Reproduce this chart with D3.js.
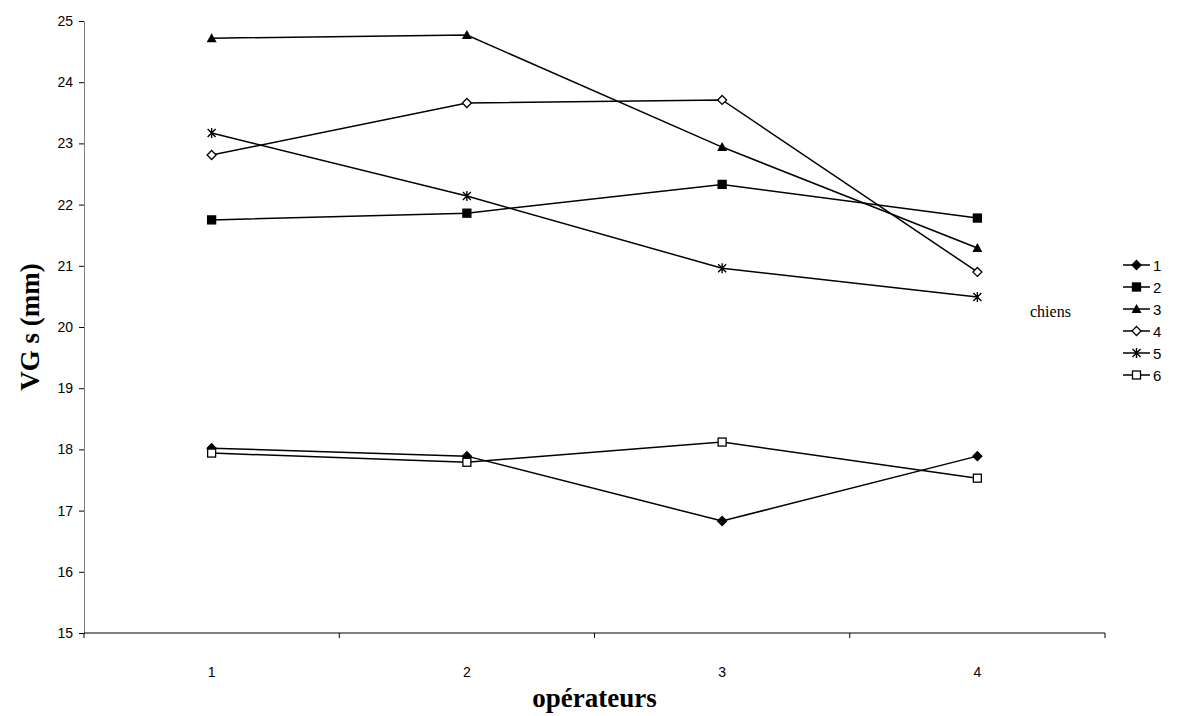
<!DOCTYPE html>
<html>
<head>
<meta charset="utf-8">
<script src="https://cdn.jsdelivr.net/npm/d3@7"></script>
<style>
  body { margin: 0; background: #fff; }
  svg { display: block; }
</style>
</head>
<body>
<div id="chart"></div>
<script>
// operateurs (x categories)
var operateurs = ["1", "2", "3", "4"];
var yTicks = [15, 16, 17, 18, 19, 20, 21, 22, 23, 24, 25];

// chiens (one series per dog)
var chien1 = [18.02, 17.89, 16.83, 17.89];
var chien2 = [21.75, 21.86, 22.33, 21.78];
var chien3 = [24.72, 24.77, 22.94, 21.29];
var chien4 = [22.81, 23.66, 23.71, 20.90];
var chien5 = [23.17, 22.14, 20.96, 20.49];
var chien6 = [17.94, 17.79, 18.12, 17.53];

var series = [
    {name: "1", values: chien1, marker: "diamondFill"},
    {name: "2", values: chien2, marker: "squareFill"},
    {name: "3", values: chien3, marker: "triangle"},
    {name: "4", values: chien4, marker: "diamondOpen"},
    {name: "5", values: chien5, marker: "star"},
    {name: "6", values: chien6, marker: "squareOpen"}
];

var width = 1179,
    height = 716,
    plotLeft = 84,
    plotRight = 1105,
    plotTop = 21,
    plotBottom = 633;

var svg = d3.select("#chart").append("svg")
    .attr("width", width)
    .attr("height", height);

var x = d3.scaleBand().domain(operateurs).range([plotLeft, plotRight]);
var y = d3.scaleLinear().domain([15, 25]).range([plotBottom, plotTop]);

// y axis
var yAxis = svg.append("g")
    .attr("transform", "translate(" + plotLeft + ",0)")
    .call(d3.axisLeft(y).tickValues(yTicks).tickSize(5).tickSizeOuter(0).tickPadding(6));
yAxis.select(".domain").attr("stroke", "#808080");
yAxis.selectAll("line").attr("stroke", "#000");
yAxis.selectAll("text")
    .style("font-family", "Liberation Sans, Arial, sans-serif")
    .style("font-size", "14px")
    .attr("fill", "#000");

// x axis, ticks on the category boundaries
var xAxis = svg.append("g")
    .attr("transform", "translate(0," + plotBottom + ")")
    .call(d3.axisBottom(x).tickSize(0).tickPadding(37));
xAxis.select(".domain").remove();
xAxis.append("line")
    .attr("x1", plotLeft).attr("x2", plotRight)
    .attr("stroke", "#000");
var bounds = operateurs.map(function (d) { return x(d); }).concat([plotRight]);
xAxis.selectAll(".bound").data(bounds).enter().append("line")
    .attr("class", "bound")
    .attr("x1", function (d) { return d; })
    .attr("x2", function (d) { return d; })
    .attr("y1", 0).attr("y2", 5)
    .attr("stroke", "#000");
xAxis.selectAll("text")
    .style("font-family", "Liberation Sans, Arial, sans-serif")
    .style("font-size", "14px")
    .attr("fill", "#000")
    .attr("dy", "0.5em");

// axis titles
svg.append("text")
    .attr("transform", "translate(39," + (plotTop + plotBottom) / 2 + ") rotate(-90)")
    .attr("text-anchor", "middle")
    .style("font-family", "Liberation Serif, Times New Roman, serif")
    .style("font-weight", "bold")
    .style("font-size", "27px")
    .text("VG s (mm)");

svg.append("text")
    .attr("x", (plotLeft + plotRight) / 2)
    .attr("y", 707)
    .attr("text-anchor", "middle")
    .style("font-family", "Liberation Serif, Times New Roman, serif")
    .style("font-weight", "bold")
    .style("font-size", "27px")
    .text("opérateurs");

function drawMarker(g, type) {
    var s = 4.5;
    if (type === "diamondFill" || type === "diamondOpen") {
        g.append("path")
            .attr("d", "M0," + (-s) + "L" + s + ",0L0," + s + "L" + (-s) + ",0Z")
            .attr("fill", type === "diamondFill" ? "#000" : "#fff")
            .attr("stroke", "#000").attr("stroke-width", 1.3);
    } else if (type === "squareFill" || type === "squareOpen") {
        g.append("rect")
            .attr("x", -4).attr("y", -4).attr("width", 8).attr("height", 8)
            .attr("fill", type === "squareFill" ? "#000" : "#fff")
            .attr("stroke", "#000").attr("stroke-width", 1.3);
    } else if (type === "triangle") {
        g.append("path")
            .attr("d", "M0,-5L5,4L-5,4Z")
            .attr("fill", "#000");
    } else if (type === "star") {
        g.append("path")
            .attr("d", "M0,-5V5M-4,-4L4,4M-4,4L4,-4")
            .attr("stroke", "#000").attr("stroke-width", 1.4).attr("fill", "none");
    }
}

var line = d3.line()
    .x(function (d, i) { return x(operateurs[i]) + x.bandwidth() / 2; })
    .y(function (d) { return y(d); });

var plot = svg.append("g");
series.forEach(function (s) {
    plot.append("path")
        .datum(s.values)
        .attr("d", line)
        .attr("fill", "none")
        .attr("stroke", "#000")
        .attr("stroke-width", 1.5);
});
series.forEach(function (s) {
    s.values.forEach(function (v, i) {
        var g = plot.append("g")
            .attr("transform", "translate(" + (x(operateurs[i]) + x.bandwidth() / 2) + "," + y(v) + ")");
        drawMarker(g, s.marker);
    });
});

// legend
var legend = svg.append("g").attr("transform", "translate(1123,265)");
series.forEach(function (s, i) {
    var row = legend.append("g").attr("transform", "translate(0," + i * 22 + ")");
    row.append("line")
        .attr("x1", 0).attr("x2", 27)
        .attr("stroke", "#000").attr("stroke-width", 1.5);
    drawMarker(row.append("g").attr("transform", "translate(13.5,0)"), s.marker);
    row.append("text")
        .attr("x", 30).attr("y", 5.5)
        .style("font-family", "Liberation Sans, Arial, sans-serif")
        .style("font-size", "15px")
        .text(s.name);
});

svg.append("text")
    .attr("x", 1030)
    .attr("y", 317)
    .style("font-family", "Liberation Serif, Times New Roman, serif")
    .style("font-size", "16px")
    .text("chiens");
</script>
</body>
</html>
